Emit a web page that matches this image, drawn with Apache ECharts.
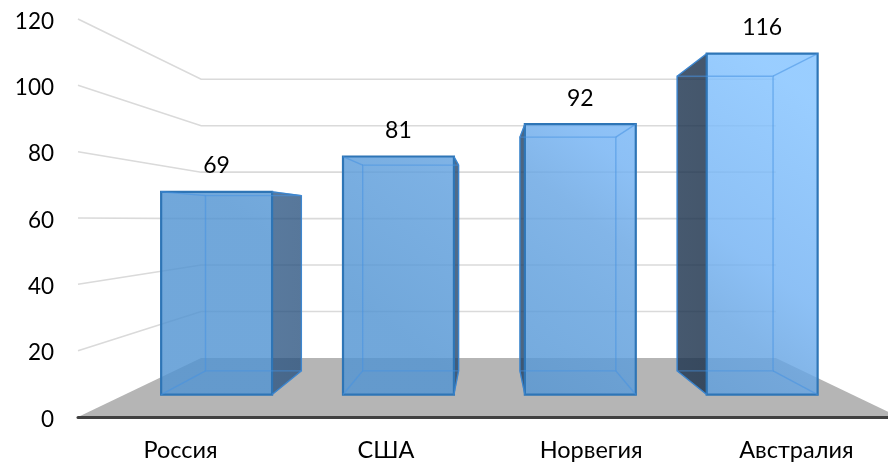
<!DOCTYPE html>
<html>
<head>
<meta charset="utf-8">
<style>
  html, body { margin: 0; padding: 0; background: #fff; overflow: hidden; }
  #chart { width: 888px; height: 463px; }
</style>
<script src="https://cdn.jsdelivr.net/npm/echarts@6/dist/echarts.min.js"></script>
</head>
<body>
<div id="chart"></div>
<script>
const categories = ['Россия', 'США', 'Норвегия', 'Австралия'];
const values = [69, 81, 92, 116];
const gridTicks = [20, 40, 60, 80, 100, 120];

// perspective of the fake 3D box: vanishing point and depth scales
const vanishY = 220;
const wallScale = 0.7;
const faceScale = 0.886;
const rearScale = 0.766;
const barRatio = 0.61;

const chart = echarts.init(document.getElementById('chart'));

function vanishX(coordSys) {
  return coordSys.x + coordSys.width / 2;
}

function project(coordSys, x, y, s) {
  const vx = vanishX(coordSys);
  return [vx + s * (x - vx), vanishY + s * (y - vanishY)];
}

function poly(points, style, z2) {
  return { type: 'polygon', shape: { points }, style, z2: z2 || 0 };
}

function renderFloor(params, api) {
  const c = params.coordSys;
  const y0 = api.coord([0, 0])[1];
  const x2 = c.x + c.width;
  return poly([
    [c.x, y0],
    project(c, c.x, y0, wallScale),
    project(c, x2, y0, wallScale),
    [x2, y0],
  ], { fill: '#b5b5b5' });
}

function renderWallLine(params, api) {
  const c = params.coordSys;
  const y = api.coord([0, api.value(0)])[1];
  const a = project(c, c.x, y, wallScale);
  const b = project(c, c.x + c.width, y, wallScale);
  return {
    type: 'polyline',
    shape: { points: [[c.x, y], a, b] },
    style: { stroke: '#dadada', lineWidth: 1.6, fill: null },
  };
}

function renderBar(params, api) {
  const c = params.coordSys;
  const i = api.value(0);
  const v = api.value(1);
  const top = api.coord([i, v]);
  const y0 = api.coord([i, 0])[1];
  const w = api.size([1, 0])[0] * barRatio;
  const xl = top[0] + 1 - w / 2;
  const xr = top[0] + 1 + w / 2;
  const yt = top[1];

  const f = [
    project(c, xl, yt, faceScale), project(c, xr, yt, faceScale),
    project(c, xr, y0, faceScale), project(c, xl, y0, faceScale),
  ];
  const r = [
    project(c, xl, yt, rearScale), project(c, xr, yt, rearScale),
    project(c, xr, y0, rearScale), project(c, xl, y0, rearScale),
  ];

  const faceFill = new echarts.graphic.LinearGradient(230, 400, 584, -72, [
    { offset: 0.26, color: 'rgba(82,148,210,0.82)' },
    { offset: 0.5, color: 'rgba(95,159,221,0.82)' },
    { offset: 0.61, color: 'rgba(103,165,227,0.82)' },
    { offset: 0.72, color: 'rgba(115,178,243,0.82)' },
    { offset: 1, color: 'rgba(134,196,255,0.84)' },
  ], true);
  const sideFill = new echarts.graphic.LinearGradient(270, 0, 700, 0, [
    { offset: 0, color: 'rgba(42,84,130,0.78)' },
    { offset: 1, color: 'rgba(28,50,76,0.82)' },
  ], true);

  const edge = '#2e75b6';
  const inner = 'rgba(70,145,225,0.55)';
  const onRight = (xl + xr) / 2 < vanishX(c);
  const side = onRight ? [f[1], r[1], r[2], f[2]] : [f[0], r[0], r[3], f[3]];

  const children = [
    poly(side, { fill: sideFill, stroke: edge, lineWidth: 1.1, lineJoin: 'bevel' }),
    poly(f, { fill: faceFill, stroke: edge, lineWidth: 2.2, lineJoin: 'miter' }, 1),
    poly(r, { fill: null, stroke: inner, lineWidth: 1.4 }, 2),
  ];
  for (let k = 0; k < 4; k++) {
    children.push({
      type: 'line',
      shape: { x1: f[k][0], y1: f[k][1], x2: r[k][0], y2: r[k][1] },
      style: { stroke: inner, lineWidth: 1.4 },
      z2: 2,
    });
  }
  children.push({
    type: 'text',
    z2: 3,
    style: {
      x: (f[0][0] + f[1][0]) / 2,
      y: f[0][1] - 26,
      text: String(v),
      fill: '#000',
      font: '23px Lato',
      align: 'center',
      verticalAlign: 'middle',
    },
  });
  return { type: 'group', children };
}

chart.setOption({
  animation: false,
  backgroundColor: '#fff',
  grid: { left: 78, top: 19, width: 821, height: 398, containLabel: false, outerBoundsMode: 'none' },
  xAxis: {
    type: 'category',
    data: categories,
    axisLine: { show: true, onZero: false, lineStyle: { color: '#404040', width: 3 } },
    axisTick: { show: false },
    axisLabel: { color: '#000', fontFamily: 'Lato', fontSize: 23.5, margin: 21 },
    z: 5,
  },
  yAxis: {
    type: 'value',
    min: 0,
    max: 120,
    interval: 20,
    axisLine: { show: false },
    axisTick: { show: false },
    splitLine: { show: false },
    axisLabel: {
      margin: 24,
      formatter: '{a|{value}}',
      rich: { a: { color: '#000', fontFamily: 'Lato', fontSize: 22.5, padding: [5, 0, 0, 0] } },
    },
  },
  series: [
    { type: 'custom', clip: false, silent: true, z: 1, data: [[0]], renderItem: renderFloor },
    { type: 'custom', clip: false, silent: true, z: 2, data: gridTicks.map((t) => [t]), encode: { y: 0 }, renderItem: renderWallLine },
    {
      type: 'custom',
      clip: false,
      z: 3,
      data: values.map((v, i) => [i, v]),
      encode: { x: 0, y: 1 },
      renderItem: renderBar,
    },
  ],
});
</script>
</body>
</html>
